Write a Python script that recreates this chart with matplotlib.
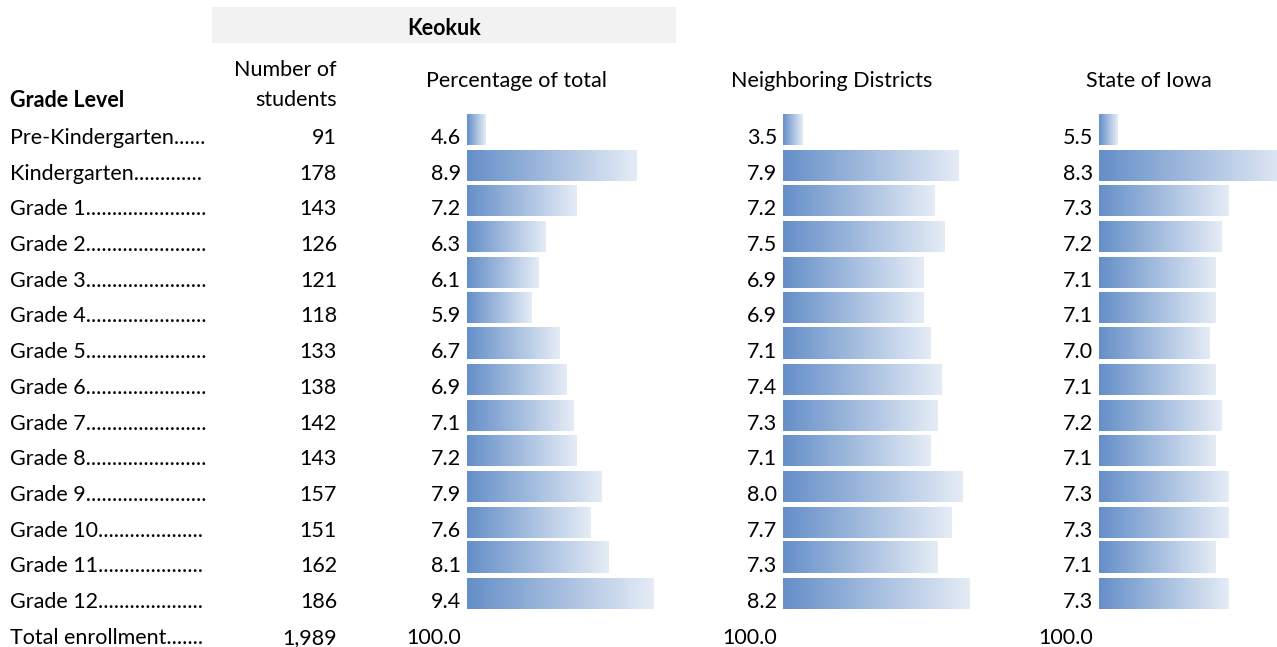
import numpy as np
import matplotlib.pyplot as plt
from matplotlib.colors import LinearSegmentedColormap
from matplotlib.patches import Rectangle

plt.rcParams['font.family'] = ['Lato', 'DejaVu Sans']

# Data
grades = ['Pre-Kindergarten', 'Kindergarten', 'Grade 1', 'Grade 2', 'Grade 3', 'Grade 4',
          'Grade 5', 'Grade 6', 'Grade 7', 'Grade 8', 'Grade 9', 'Grade 10', 'Grade 11', 'Grade 12']
students = [91, 178, 143, 126, 121, 118, 133, 138, 142, 143, 157, 151, 162, 186]
keokuk_pct = [4.6, 8.9, 7.2, 6.3, 6.1, 5.9, 6.7, 6.9, 7.1, 7.2, 7.9, 7.6, 8.1, 9.4]
neighbor_pct = [3.5, 7.9, 7.2, 7.5, 6.9, 6.9, 7.1, 7.4, 7.3, 7.1, 8.0, 7.7, 7.3, 8.2]
iowa_pct = [5.5, 8.3, 7.3, 7.2, 7.1, 7.1, 7.0, 7.1, 7.2, 7.1, 7.3, 7.3, 7.1, 7.3]
total_students = '1,989'
total_pct = '100.0'

W, H = 1277, 647
fig = plt.figure(figsize=(W / 100, H / 100), dpi=100)

# overlay axes in pixel units for the table text
tx = fig.add_axes([0, 0, 1, 1])
tx.set_xlim(0, W)
tx.set_ylim(H, 0)
tx.axis('off')

fs = 15.5
row0, pitch = 144, 35.7  # baseline of first row, row spacing (px)

# header
tx.add_patch(Rectangle((212, 7), 464, 36, facecolor='#f2f2f2', edgecolor='none'))
tx.text(444, 35, 'Keokuk', ha='center', va='baseline', fontsize=fs, fontweight='bold')
tx.text(10, 107, 'Grade Level', ha='left', va='baseline', fontsize=fs, fontweight='bold')
tx.text(337, 76, 'Number of', ha='right', va='baseline', fontsize=fs)
tx.text(337, 106, 'students', ha='right', va='baseline', fontsize=fs)
tx.text(516, 87, 'Percentage of total', ha='center', va='baseline', fontsize=fs)
tx.text(832, 87, 'Neighboring Districts', ha='center', va='baseline', fontsize=fs)
tx.text(1149, 87, 'State of Iowa', ha='center', va='baseline', fontsize=fs)

renderer = fig.canvas.get_renderer()


def leader(label, right=207):
    # add dots until the label reaches the column edge
    t = tx.text(10, 0, label, fontsize=fs)
    s = label
    while True:
        t.set_text(s + '.')
        bb = t.get_window_extent(renderer)
        if bb.x1 > right:
            break
        s += '.'
    t.remove()
    return s


labels = grades + ['Total enrollment']
for i, lab in enumerate(labels):
    y = row0 + pitch * i
    tx.text(10, y, leader(lab), ha='left', va='baseline', fontsize=fs)

for i, n in enumerate(students):
    tx.text(337, row0 + pitch * i, str(n), ha='right', va='baseline', fontsize=fs)
tx.text(337, row0 + pitch * 14, total_students, ha='right', va='baseline', fontsize=fs)

# bar columns: (values, number right edge, bar left px, base value, px per unit)
cols = [
    (keokuk_pct, 461, 467, 4.06, 35.0),
    (neighbor_pct, 777, 783, 2.94, 35.45),
    (iowa_pct, 1093, 1099, 5.2, 61.5),
]

cmap = LinearSegmentedColormap.from_list('bar', ['#658fc8', '#e5ecf6'])
grad = np.linspace(0, 1, 256).reshape(1, -1)

for vals, num_x, left, base, scale in cols:
    for i, v in enumerate(vals):
        tx.text(num_x, row0 + pitch * i, f'{v:.1f}', ha='right', va='baseline', fontsize=fs)
    tx.text(num_x, row0 + pitch * 14, total_pct, ha='right', va='baseline', fontsize=fs)

    width_px = W - left + 20
    y_top = 129.5 - pitch / 2
    ax = fig.add_axes([left / W, 1 - (y_top + pitch * 14) / H, width_px / W, pitch * 14 / H])
    ax.axis('off')
    hgt = 31 / pitch
    for i, v in enumerate(vals):
        ax.imshow(grad, cmap=cmap, aspect='auto', interpolation='bilinear',
                  extent=[base, v, i + hgt / 2, i - hgt / 2])
    ax.set_xlim(base, base + width_px / scale)
    ax.set_ylim(13.5, -0.5)

fig.savefig('out.png', dpi=100)
